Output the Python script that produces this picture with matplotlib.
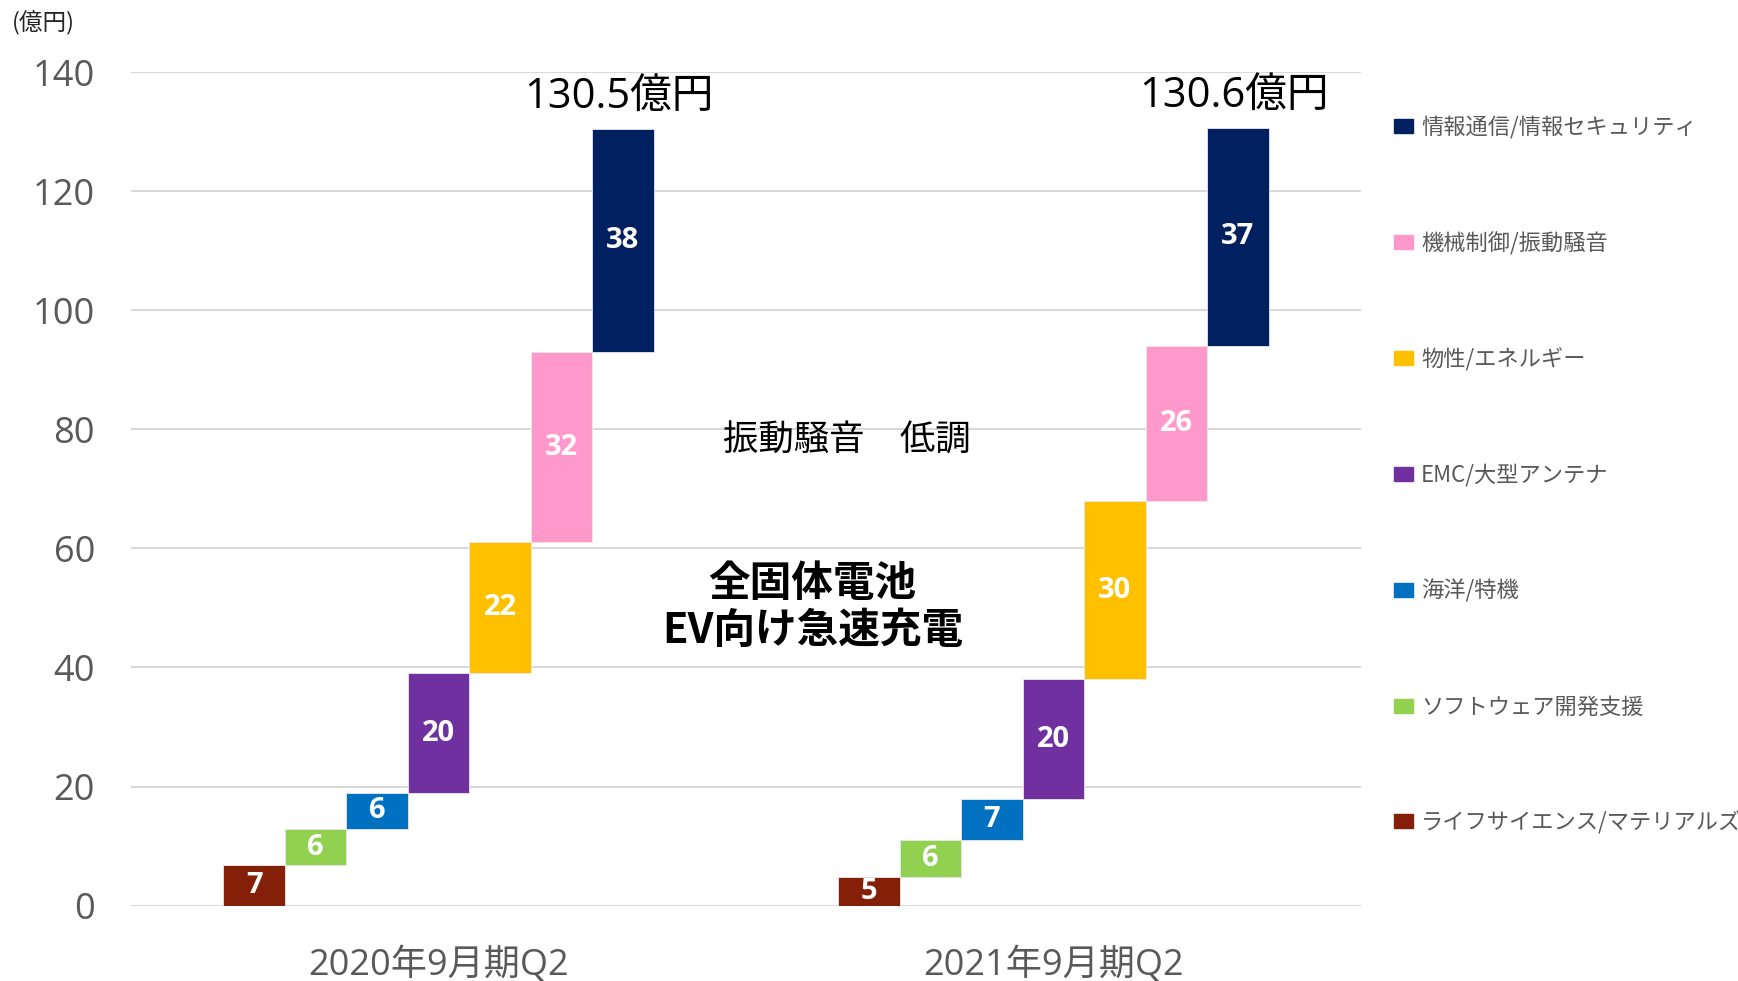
import matplotlib.pyplot as plt
from matplotlib.patches import Patch

plt.rcParams['font.family'] = ['Noto Sans CJK JP', 'DejaVu Sans']
wide = ['Open Sans', 'Noto Sans CJK JP']

periods = ['2020年9月期Q2', '2021年9月期Q2']
segments = ['ライフサイエンス/マテリアルズ', 'ソフトウェア開発支援', '海洋/特機',
            'EMC/大型アンテナ', '物性/エネルギー', '機械制御/振動騒音',
            '情報通信/情報セキュリティ']
colors = ['#841F08', '#92D050', '#0070C0', '#7030A0', '#FFC000', '#FF99CC', '#002060']
sales_2020 = [6.8, 6.1, 6.0, 20.1, 22.0, 31.9, 37.6]
sales_2021 = [4.8, 6.2, 6.9, 20.1, 30.0, 26.0, 36.6]
totals = [130.5, 130.6]

fig = plt.figure(figsize=(17.38, 9.81), dpi=100)
ax = fig.add_axes([0.0754, 0.0768, 0.7076, 0.8498])

w = 0.1
for i, vals in enumerate([sales_2020, sales_2021]):
    base = 0
    for k, v in enumerate(vals):
        x = i + (k - 3) * w
        ax.bar(x, v, w, bottom=base, color=colors[k], edgecolor='#E8E8E8',
               linewidth=0.6, zorder=3)
        ax.text(x, base + v / 2, f'{round(v)}', ha='center', va='center',
                color='white', fontsize=21, fontweight='bold', family=wide, zorder=4)
        base += v
    ax.text(i + 3 * w - 0.006, base + 1.8, f'{totals[i]}億円', ha='center',
            va='bottom', fontsize=30, color='black', family=wide)

ax.text(0.664, 78.0, '振動騒音　低調', ha='center', va='center', fontsize=25.5,
        color='black')
ax.text(0.608, 50.1, '全固体電池\nEV向け急速充電', ha='center', va='center',
        fontsize=30, fontweight='bold', color='black', linespacing=1.15)

ax.set_xlim(-0.5, 1.5)
ax.set_ylim(0, 140)
ax.set_yticks(range(0, 141, 20))
ax.set_xticks([0, 1])
ax.set_xticklabels(periods)
ax.grid(axis='y', color='#D9D9D9', linewidth=1.5, zorder=0)
ax.set_axisbelow(True)
for s in ax.spines.values():
    s.set_visible(False)
ax.tick_params(axis='y', length=0, pad=26, labelsize=26, labelcolor='#595959')
ax.tick_params(axis='x', length=0, pad=30, labelsize=26, labelcolor='#595959')
for t in ax.get_xticklabels() + ax.get_yticklabels():
    t.set_family(wide)

fig.text(0.007, 0.976, '(億円)', ha='left', va='center', fontsize=17, color='#262626')

handles = [Patch(color=c) for c in colors][::-1]
ax.legend(handles, segments[::-1], loc='upper left', bbox_to_anchor=(1.02, 0.958),
          frameon=False, fontsize=16, labelcolor='#595959', handlelength=0.85,
          handleheight=0.6, handletextpad=0.35, labelspacing=4.17, borderaxespad=0)

fig.savefig('out.png', dpi=100)
